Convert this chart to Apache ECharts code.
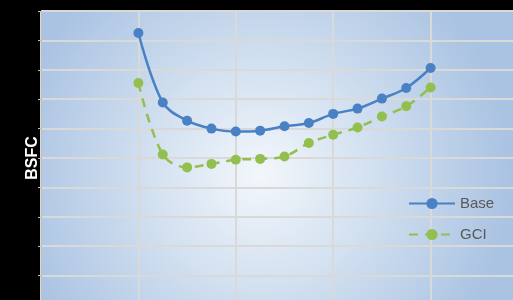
<!DOCTYPE html>
<html>
<head>
<meta charset="utf-8">
<script src="https://cdn.jsdelivr.net/npm/echarts@6/dist/echarts.min.js"></script>
<style>
  html, body { margin: 0; padding: 0; background: #000; }
  #chart { width: 513px; height: 300px; }
</style>
</head>
<body>
<div id="chart"></div>
<script>
// operating points (x position on the axis) and BSFC values
const points = [4, 5, 6, 7, 8, 9, 10, 11, 12, 13, 14, 15, 16]
const baseValues = [292.5, 268.9, 262.7, 260.0, 259.0, 259.3, 260.8, 261.9, 265.0, 266.8, 270.2, 273.8, 280.6]
const gciValues = [275.5, 251.2, 246.8, 248.0, 249.4, 249.7, 250.5, 255.1, 257.9, 260.4, 264.1, 267.6, 274.0]
const seriesNames = ['Base', 'GCI']

const pairs = vals => points.map((p, i) => [p, vals[i]])

const chart = echarts.init(document.getElementById('chart'))

chart.setOption({
  backgroundColor: '#000',
  animation: false,
  textStyle: { fontFamily: 'Liberation Sans, Arial, sans-serif' },
  grid: {
    left: 41,
    top: 11,
    right: -15,
    bottom: -5,
    outerBoundsMode: 'none',
    show: true,
    borderColor: '#a9a9a9',
    borderWidth: 1,
    backgroundColor: new echarts.graphic.RadialGradient(0.45, 0.56, 0.85, [
      { offset: 0, color: '#f3f7fb' },
      { offset: 0.45, color: '#d2e0f0' },
      { offset: 1, color: '#aac3e2' }
    ])
  },
  legend: {
    data: seriesNames,
    orient: 'vertical',
    left: 403,
    top: 191,
    itemWidth: 46,
    itemHeight: 14,
    itemGap: 16,
    textStyle: { color: '#595959', fontSize: 15 }
  },
  xAxis: {
    type: 'value',
    min: 0,
    max: 20,
    interval: 4,
    axisLine: { show: false },
    axisTick: { show: false },
    axisLabel: { show: false },
    splitLine: { lineStyle: { color: '#d9d9d9', width: 2 } }
  },
  yAxis: {
    type: 'value',
    min: 200,
    max: 300,
    interval: 10,
    name: 'BSFC',
    nameLocation: 'middle',
    nameGap: 0,
    nameTextStyle: { color: '#fff', fontSize: 16, fontWeight: 'bold' },
    axisLine: { show: true, lineStyle: { color: '#bfbfbf', width: 1 } },
    axisTick: { show: true, length: 3, lineStyle: { color: '#bfbfbf' } },
    axisLabel: { show: false },
    splitLine: { lineStyle: { color: '#d9d9d9', width: 2 } }
  },
  series: [{
    name: 'Base',
    type: 'line',
    smooth: 0.35,
    data: pairs(baseValues),
    symbol: 'circle',
    symbolSize: 10,
    itemStyle: { color: '#4a80c4' },
    lineStyle: { color: '#4a80c4', width: 2.5 }
  }, {
    name: 'GCI',
    type: 'line',
    smooth: 0.35,
    data: pairs(gciValues),
    symbol: 'circle',
    symbolSize: 10,
    itemStyle: { color: '#93bf4f' },
    lineStyle: { color: '#93bf4f', width: 2.5, type: [9, 7] }
  }]
})
</script>
</body>
</html>
